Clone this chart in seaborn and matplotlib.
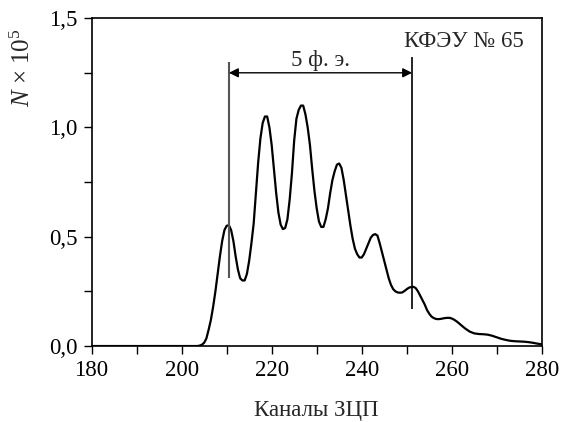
import numpy as np
import pandas as pd
import matplotlib
matplotlib.use("Agg")
import matplotlib.pyplot as plt
import seaborn as sns

# ---- data ----
# channels: 180..202 (step 1), 203..262 (step 0.5), 263..280 (step 1)
channels = (list(range(180, 203)) +
            [203 + 0.5 * i for i in range(119)] +
            list(range(263, 281)))
counts = ([0.0] * 23 +                                                    # 180..202
          [0.0, 0.0, 0.002, 0.006, 0.015, 0.035, 0.075, 0.12, 0.18, 0.25,  # 203..207.5
           0.33, 0.41, 0.48, 0.53, 0.55, 0.553, 0.53, 0.48, 0.41, 0.35,    # 208..212.5
           0.31, 0.30, 0.30, 0.33, 0.39, 0.47, 0.56, 0.70, 0.84, 0.95,     # 213..217.5
           1.02, 1.05, 1.05, 1.00, 0.92, 0.81, 0.70, 0.61, 0.555, 0.535,   # 218..222.5
           0.54, 0.58, 0.67, 0.79, 0.94, 1.04, 1.08, 1.10, 1.10, 1.06,     # 223..227.5
           1.00, 0.92, 0.81, 0.71, 0.63, 0.57, 0.545, 0.545, 0.58, 0.63,   # 228..232.5
           0.70, 0.76, 0.80, 0.83, 0.835, 0.815, 0.76, 0.69, 0.62, 0.55,   # 233..237.5
           0.49, 0.445, 0.42, 0.405, 0.405, 0.42, 0.445, 0.47, 0.495, 0.508,  # 238..242.5
           0.512, 0.505, 0.47, 0.43, 0.39, 0.35, 0.31, 0.28, 0.26, 0.25,   # 243..247.5
           0.245, 0.244, 0.245, 0.252, 0.26, 0.267, 0.27, 0.271, 0.265, 0.25,  # 248..252.5
           0.23, 0.21, 0.19, 0.165, 0.148, 0.135, 0.128, 0.124, 0.123, 0.124,  # 253..257.5
           0.126, 0.128, 0.129, 0.129, 0.126, 0.121, 0.114, 0.106, 0.097] +    # 258..262
          [0.08, 0.066, 0.058, 0.055, 0.054, 0.052, 0.047, 0.04, 0.033,     # 263..271
           0.028, 0.024, 0.022, 0.021, 0.020, 0.018, 0.015, 0.011, 0.008])  # 272..280

marker_left = [210.5, 0.31, 1.30]     # x, y_bottom, y_top
marker_right = [251.2, 0.17, 1.32]
arrow_y = 1.25
span_label = "5 ф. э."
device_label = "КФЭУ № 65"
x_ticks = list(range(180, 281, 10))
x_labels = ["180", "", "200", "", "220", "", "240", "", "260", "", "280"]
y_ticks = [0.0, 0.25, 0.5, 0.75, 1.0, 1.25, 1.5]
y_labels = ["0,0", "", "0,5", "", "1,0", "", "1,5"]
xlabel = "Каналы ЗЦП"
ylabel = r"$N$ × 10$^5$"

df = pd.DataFrame({"channel": channels, "N": counts})

sns.set_style("ticks")
plt.rcParams["font.family"] = ["Liberation Serif", "DejaVu Serif"]
plt.rcParams["mathtext.fontset"] = "custom"
plt.rcParams["mathtext.rm"] = "Liberation Serif"
plt.rcParams["mathtext.it"] = "Liberation Serif:italic"

fig = plt.figure(figsize=(5.62, 4.22), dpi=100)
ax = fig.add_axes([0.163, 0.180, 0.801, 0.777])

sns.lineplot(data=df, x="channel", y="N", ax=ax, color="black", linewidth=1.6)

ax.set_xlim(180, 280)
ax.set_ylim(0, 1.5)
ax.set_xticks(x_ticks)
ax.set_xticklabels(x_labels)
ax.set_yticks(y_ticks)
ax.set_yticklabels(y_labels)
ax.tick_params(direction="out", length=6, width=1.0, labelsize=16.5, colors="black", pad=4)
for s in ax.spines.values():
    s.set_linewidth(1.2)
    s.set_color("black")
    s.set_visible(True)

ax.set_xlabel(xlabel, fontsize=16.5, labelpad=14)
ax.set_ylabel(ylabel, fontsize=18)
ax.yaxis.set_label_coords(-0.126, 0.849)

ax.vlines(marker_left[0], marker_left[1], marker_left[2], color="#555555", linewidth=1.5)
ax.vlines(marker_right[0], marker_right[1], marker_right[2], color="black", linewidth=1.2)
ax.annotate("", xy=(marker_right[0], arrow_y), xytext=(marker_left[0], arrow_y),
            arrowprops=dict(arrowstyle="<|-|>", color="black", lw=1.0,
                            mutation_scale=14, shrinkA=0, shrinkB=0))
ax.text((marker_left[0] + marker_right[0]) / 2, 1.28, span_label,
        ha="center", va="baseline", fontsize=16.5)
ax.text(262.7, 1.391, device_label, ha="center", va="center", fontsize=16.5)

fig.savefig("out.png", dpi=100)
